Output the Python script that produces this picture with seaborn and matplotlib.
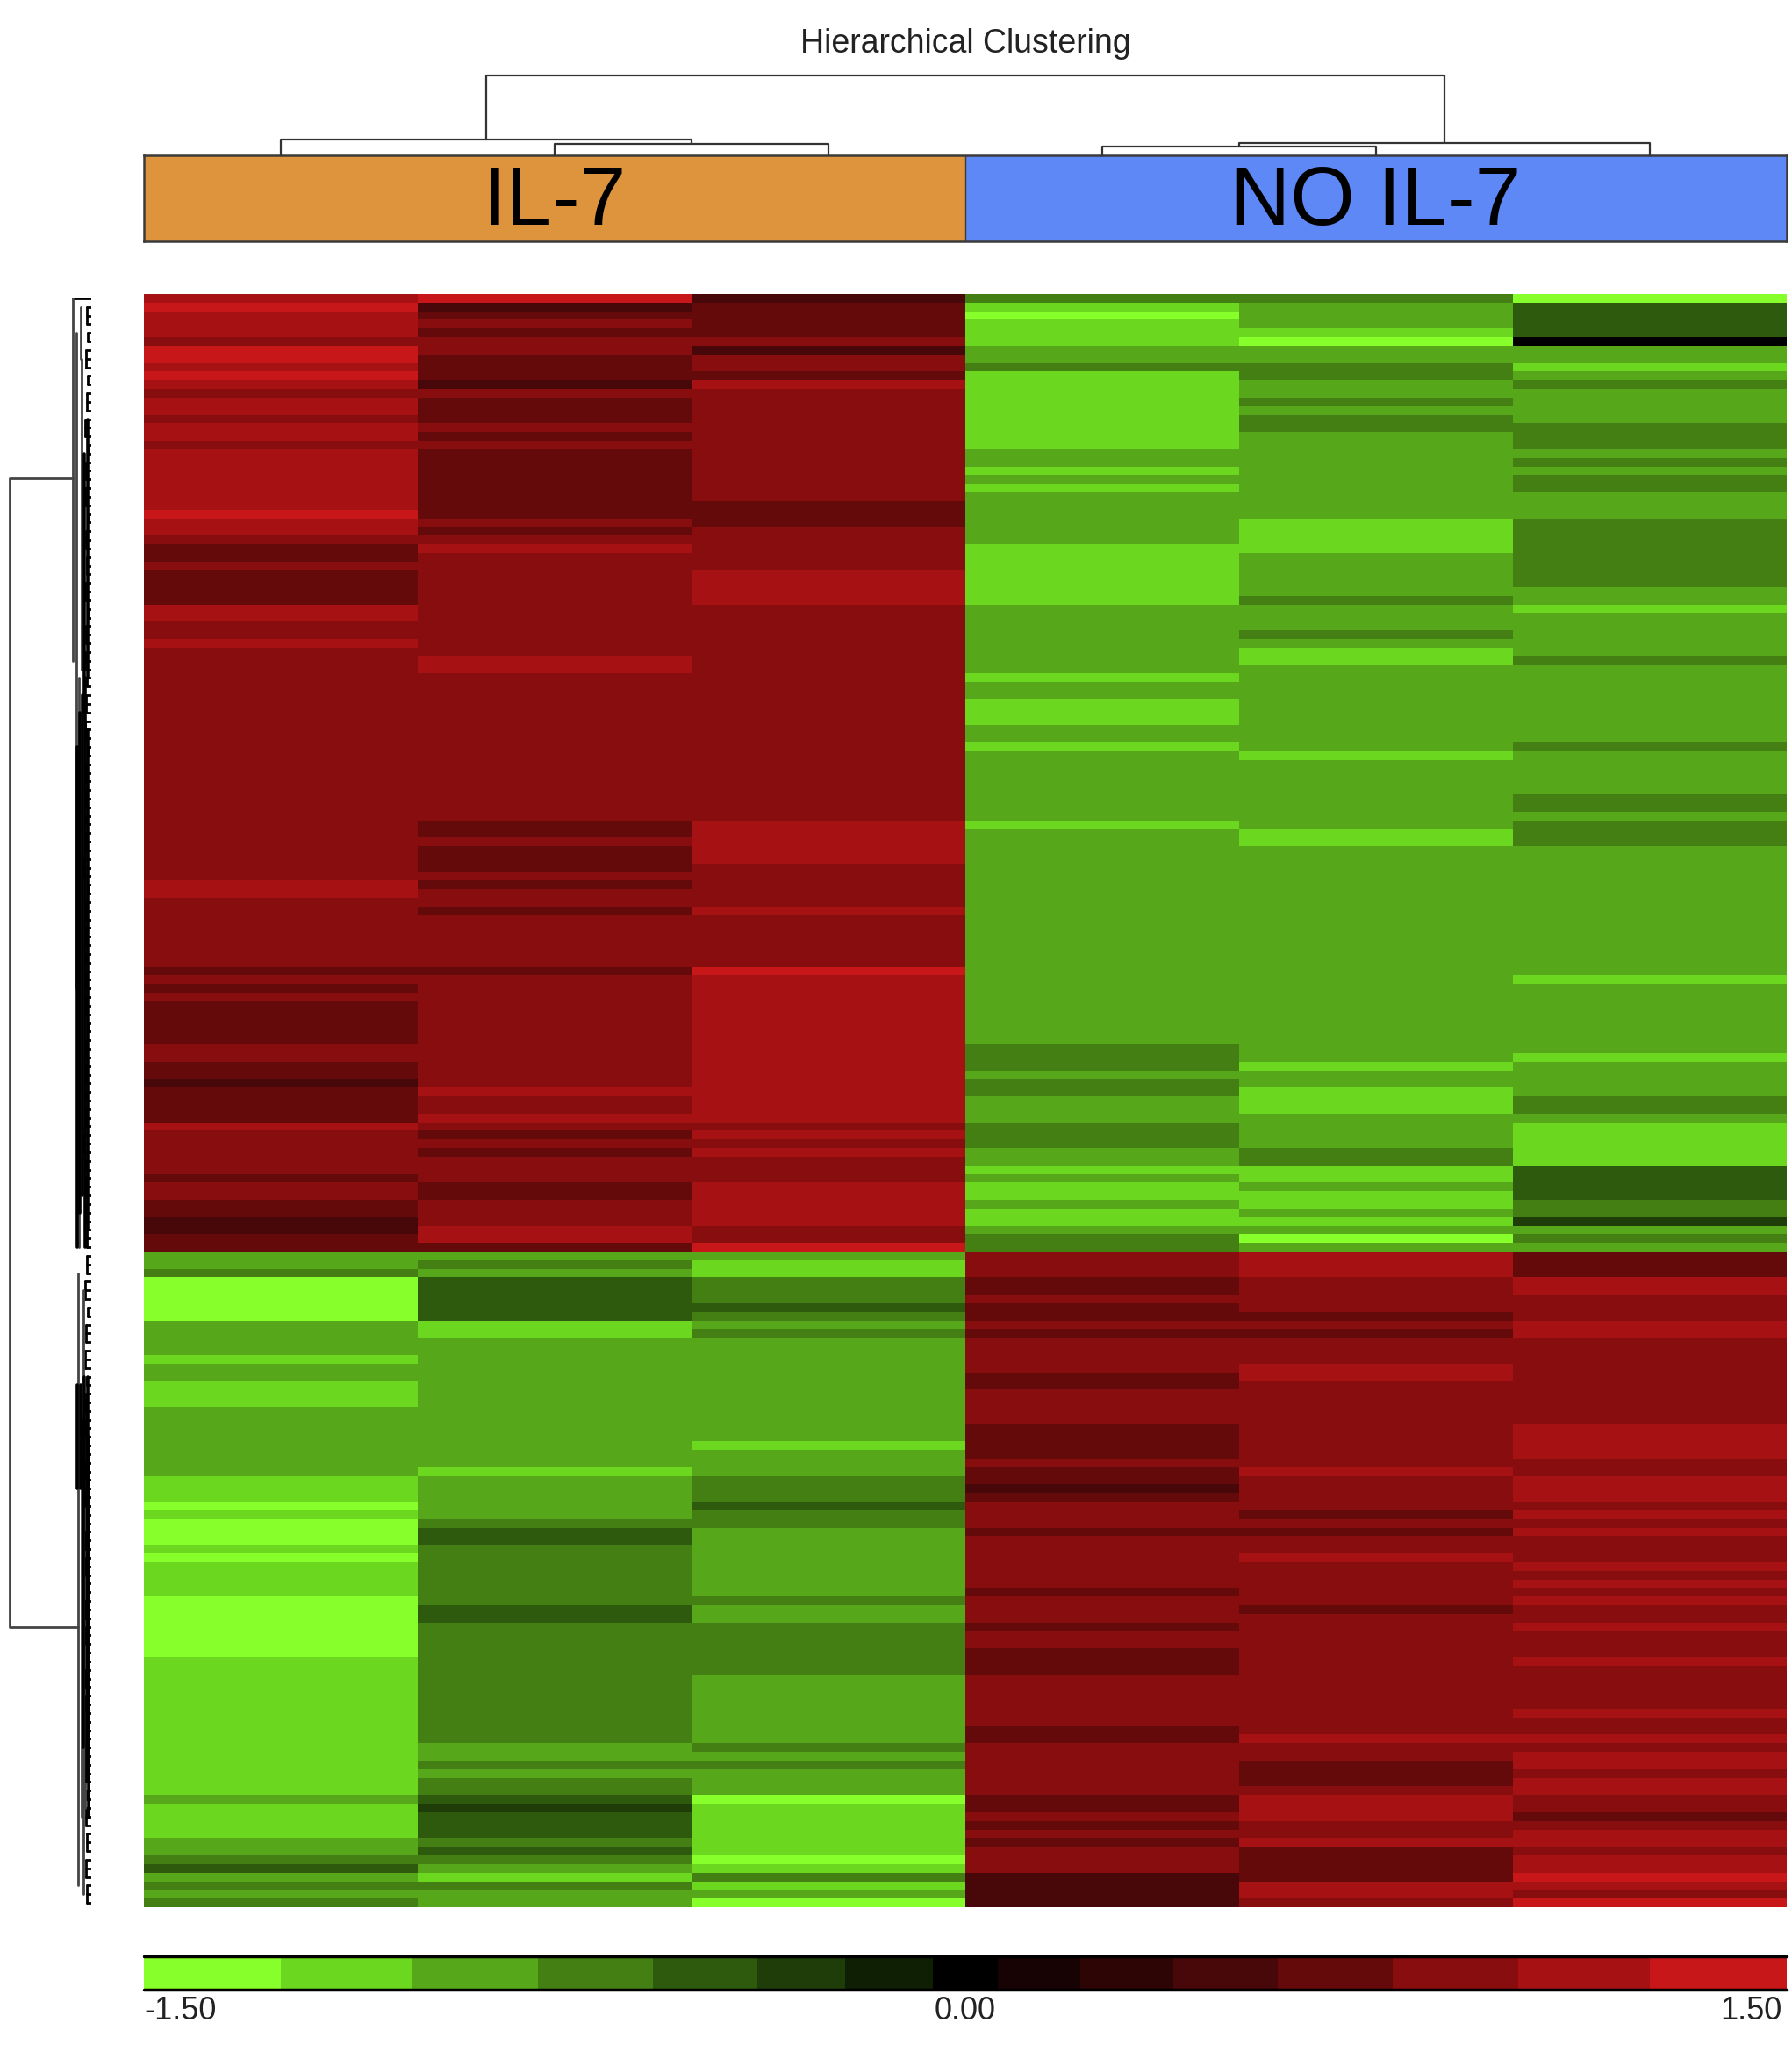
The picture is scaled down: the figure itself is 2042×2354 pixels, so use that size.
import numpy as np
import matplotlib
matplotlib.use("Agg")
import matplotlib.pyplot as plt
from matplotlib.colors import ListedColormap, BoundaryNorm
from matplotlib.transforms import ScaledTranslation
import seaborn as sns

sns.set_style("white")
plt.rcParams['font.family'] = ['Liberation Sans', 'DejaVu Sans']

# ==========================================
# DATA (runs of [value, number of rows], top row first)
# ==========================================

sample_names = ["IL-7", "IL-7", "IL-7", "NO IL-7", "NO IL-7", "NO IL-7"]
group_labels = ["IL-7", "NO IL-7"]
group_colors = ["#DD943D", "#5F88F7"]

a, b, c, d, e, f, g = 1.4, 1.1, 0.9, 0.7, 0.5, 0.3, 0.1
p, q, r, s, t, u, v = -1.4, -1.1, -0.9, -0.7, -0.5, -0.3, -0.1

il7_1 = [[b,1],[a,1],[b,3],[c,1],[a,2],[b,1],[a,1],[b,1],[c,1],[b,2],[c,1],[b,2],[c,1],[b,7],[a,1],[b,2],[c,1],
         [d,2],[c,1],[d,4],[b,2],[c,2],[b,1],[c,27],[b,2],[c,8],[d,1],[c,1],[d,1],[c,1],[d,5],[c,2],[d,2],[e,1],
         [d,4],[b,1],[c,5],[d,1],[c,2],[d,2],[e,2],[d,2],
         [r,2],[s,1],[p,5],[r,4],[q,1],[r,2],[q,3],[r,8],[q,3],[p,1],[q,1],[p,3],[q,1],[p,1],[q,4],[p,7],[q,16],
         [r,1],[q,4],[r,2],[s,1],[t,1],[r,1],[s,1],[r,1],[s,1]]
il7_2 = [[a,1],[e,1],[d,1],[c,1],[d,1],[c,2],[d,3],[e,1],[c,1],[d,3],[c,1],[d,1],[c,1],[d,8],[c,1],[d,1],[c,1],
         [b,1],[c,12],[b,2],[c,17],[d,2],[c,1],[d,3],[c,1],[d,1],[c,2],[d,1],[c,6],[d,1],[c,13],[b,1],[c,2],[b,1],
         [c,1],[d,1],[c,1],[d,1],[c,3],[d,2],[c,3],[b,2],[d,1],
         [r,1],[s,1],[r,1],[t,5],[q,2],[r,15],[q,1],[r,5],[s,1],[t,2],[s,7],[t,2],[s,14],[r,2],[s,1],[r,1],[s,2],
         [t,1],[u,1],[t,3],[s,1],[t,1],[s,1],[r,1],[q,1],[s,1],[r,2]]
il7_3 = [[e,1],[d,4],[c,1],[e,1],[c,2],[d,1],[b,1],[c,13],[d,3],[c,5],[b,4],[c,25],[b,5],[c,5],[b,1],[c,6],[a,1],
         [b,17],[c,1],[b,1],[c,1],[b,1],[c,3],[b,5],[c,2],[a,1],
         [r,1],[q,2],[s,3],[t,1],[s,1],[r,1],[s,1],[r,12],[q,1],[r,3],[s,3],[t,1],[s,2],[r,8],[s,1],[r,2],[s,6],
         [r,8],[s,1],[r,1],[s,1],[r,3],[p,1],[q,6],[p,1],[q,1],[s,1],[q,1],[r,1],[p,1]]
noil7_1 = [[s,1],[q,1],[p,1],[q,3],[r,2],[s,1],[q,9],[r,2],[q,1],[r,1],[q,1],[r,6],[q,7],[r,8],[q,1],[r,2],[q,3],
           [r,2],[q,1],[r,8],[q,1],[r,25],[s,3],[r,1],[s,2],[r,3],[s,3],[r,2],[q,1],[r,1],[q,2],[r,1],[q,2],[r,1],[s,2],
           [c,3],[d,2],[c,1],[d,2],[c,1],[d,1],[c,4],[d,2],[c,4],[d,4],[c,1],[d,2],[e,1],[d,1],[c,3],[d,1],[c,6],
           [d,1],[c,3],[d,1],[c,2],[d,3],[c,6],[d,2],[c,6],[d,2],[c,1],[d,1],[c,1],[d,1],[c,3],[e,4]]
noil7_2 = [[s,1],[r,3],[q,1],[p,1],[r,2],[s,2],[r,2],[s,1],[r,1],[s,2],[r,10],[q,4],[r,5],[s,1],[r,3],[s,1],[r,1],
           [q,2],[r,10],[q,1],[r,8],[q,2],[r,25],[q,1],[r,2],[q,3],[r,4],[s,2],[q,2],[r,1],[q,2],[r,1],[q,1],[r,1],
           [p,1],[r,1],
           [b,3],[c,4],[d,1],[c,1],[d,1],[c,3],[b,2],[c,10],[b,1],[c,4],[d,1],[c,1],[d,1],[c,2],[b,1],[c,5],[d,1],
           [c,14],[b,1],[c,2],[d,3],[c,1],[b,3],[c,2],[b,1],[d,4],[b,2],[c,1]]
noil7_3 = [[p,1],[t,4],[0.0,1],[r,2],[q,1],[r,1],[s,1],[r,4],[s,3],[r,1],[s,1],[r,1],[s,2],[r,3],[s,8],[r,2],[q,1],
           [r,5],[s,1],[r,9],[s,1],[r,5],[s,2],[r,1],[s,3],[r,15],[q,1],[r,8],[q,1],[r,4],[s,2],[r,1],[q,5],[t,4],
           [s,2],[u,1],[r,1],[s,1],[r,1],
           [d,3],[b,2],[c,3],[b,2],[c,10],[b,4],[c,2],[b,3],[c,1],[b,1],[c,1],[b,1],[c,3],[b,1],[c,1],[b,1],[c,1],
           [b,1],[c,2],[b,1],[c,3],[b,1],[c,5],[b,1],[c,2],[b,1],[c,1],[b,2],[c,1],[b,2],[c,2],[d,1],[c,1],[b,2],
           [c,1],[b,2],[a,1],[b,1],[c,1],[a,1]]

# colour steps of the scale, they are not evenly wide
scale_edges = [-1.5,-1.25,-1.01,-0.78,-0.57,-0.38,-0.22,-0.06,0.06,0.21,0.38,0.57,0.78,1.01,1.25,1.5]
scale_colors = ["#86FF2A","#6CD71F","#56A81A","#437F13","#2E5A0D","#1E3D08","#0F1F04","#000000",
                "#180304","#2E0505","#480708","#640A0A","#870D0F","#A61213","#C71718"]
scale_ticks = [-1.5, 0, 1.5]
scale_labels = ["-1.50", "0.00", "1.50"]

# sample tree: left node, right node, height
col_links = [[1,2,13],[0,6,18],[3,4,10],[5,8,14],[7,9,91]]

# gene tree: first row, last row, height
row_small = [[0,0,21],[1,3,5],[4,5,4],[6,8,6],[9,10,4],[11,13,5],[14,16,7],[17,18,4],[19,21,6],[22,24,7],[25,26,4],
             [27,29,6],[30,32,5],[33,35,7],[36,37,4],[38,40,6],[41,43,7],[44,45,5],[46,48,6],[49,51,7],[52,53,4],
             [54,56,6],[57,59,7],[60,61,5],[62,64,6],[65,67,8],[68,69,4],[70,72,6],[73,75,7],[76,77,5],[78,80,6],
             [81,83,7],[84,85,4],[86,88,6],[89,91,7],[92,93,5],[94,96,6],[97,99,8],[100,101,5],[102,104,6],
             [105,107,7],[108,110,5],[111,113,5],[114,116,7],[117,118,4],[119,121,6],[122,124,7],[125,126,5],
             [127,129,6],[130,132,8],[133,134,4],[135,137,7],[138,140,6],[141,142,5],[143,145,7],[146,148,6],
             [149,150,4],[151,153,7],[154,156,6],[157,158,5],[159,161,7],[162,164,6],[165,166,4],[167,169,6],
             [170,172,7],[173,174,5],[175,177,6],[178,180,5],[181,183,6],[184,186,5]]
row_mid = [[0,42,21],[4,80,17],[44,110,14],[1,7,12],[7,43,11],[113,184,15],[137,176,11],[164,175,7],[115,160,9],
           [140,185,9]]
row_dense = [[50,108,4],[44,110,7],[46,104,10],[48,106,13],[52,110,16],[14,44,4],[18,48,8],
             [125,140,4],[125,140,8],[126,138,12],[126,138,16],[128,172,5],[130,168,9],[132,176,3]]
row_root = [21.4,154.5,93]
row_root_children = [21,15]

# ==========================================
# FIGURE
# ==========================================

W, H = 2042, 2354
fig = plt.figure(figsize=(W/100, H/100), dpi=100, facecolor="white")

def box(x0, y0, x1, y1):
    return [x0/W, 1-y1/H, (x1-x0)/W, (y1-y0)/H]

ax_main = fig.add_axes(box(164, 335, 2036, 2173))
ax_cbar = fig.add_axes(box(164, 2229, 2036, 2267))
ax_group = fig.add_axes(box(164, 177, 2036, 275))
ax_top = fig.add_axes(box(164, 30, 2036, 177))
ax_left = fig.add_axes(box(0, 335, 104, 2173))

columns = [il7_1, il7_2, il7_3, noil7_1, noil7_2, noil7_3]
matrix = np.column_stack([np.repeat([x[0] for x in col], [x[1] for x in col]) for col in columns])

# Heatmap + colour scale

cmap = ListedColormap(scale_colors)
norm = BoundaryNorm(scale_edges, cmap.N)

sns.heatmap(
    matrix,
    cmap=cmap,
    norm=norm,
    xticklabels=False,
    yticklabels=False,
    ax=ax_main,
    cbar_ax=ax_cbar,
    cbar_kws={
        'orientation': 'horizontal',
        'spacing': 'proportional',
        'ticks': scale_ticks
    }
)

ax_cbar.minorticks_off()
ax_cbar.set_xticks(scale_ticks, scale_labels)
ax_cbar.tick_params(which='both', length=0, labelsize=26, pad=5, labelcolor="#222222")
cbar_labels = ax_cbar.get_xticklabels()
cbar_labels[0].set_ha('left')
cbar_labels[-1].set_ha('right')
cbar_labels[-1].set_transform(
    cbar_labels[-1].get_transform() + ScaledTranslation(-6/100, 0, fig.dpi_scale_trans)
)
for y in [0, 1]:
    ax_cbar.axhline(y, color='black', lw=2.5, clip_on=False)

# Group bar

sns.heatmap(
    [[0, 1]],
    cmap=ListedColormap(group_colors),
    annot=np.array([group_labels]),
    fmt="",
    annot_kws={'size': 68, 'color': 'black'},
    cbar=False,
    xticklabels=False,
    yticklabels=False,
    ax=ax_group
)
for label in ax_group.texts:
    label.set_y(0.56)
for spine in ax_group.spines.values():
    spine.set_visible(True)
    spine.set_color("#3a3a3a")
    spine.set_linewidth(1.8)
ax_group.axvline(1, color="#3a3a3a", lw=1)

# Sample tree

ax_top.set_xlim(0, len(sample_names))
ax_top.set_ylim(0, 147)
ax_top.axis('off')
pos = {i: (i + 0.5, 0) for i in range(len(sample_names))}
for k, (left, right, height) in enumerate(col_links):
    x0, h0 = pos[left]
    x1, h1 = pos[right]
    ax_top.plot([x0, x0, x1, x1], [h0, height, height, h1], color="#333333", lw=1.6, clip_on=False)
    pos[len(sample_names) + k] = ((x0 + x1) / 2, height)

ax_top.text(
    3, 127, "Hierarchical Clustering",
    ha='center', va='center', fontsize=27, color="#222222", clip_on=False
)

# Gene tree

ax_left.set_xlim(104, 0)
ax_left.set_ylim(matrix.shape[0], 0)
ax_left.axis('off')
for first, last, height in row_small:
    for row in range(first, last + 1):
        ax_left.plot([0, height], [row + 0.5, row + 0.5], color="black", lw=2)
    ax_left.plot([height, height], [first + 0.5, last + 0.5], color="black", lw=2)
for first, last, height in row_mid:
    ax_left.plot([height, height], [first + 0.5, last + 0.5], color="#444444", lw=2)
for first, last, height in row_dense:
    ax_left.plot([height, height], [first + 0.5, last + 0.5], color="black", lw=2.6)
top_row, bottom_row, root_height = row_root
ax_left.plot([row_root_children[0], root_height, root_height, row_root_children[1]],
             [top_row, top_row, bottom_row, bottom_row], color="#444444", lw=2)

fig.savefig("out.png", dpi=100)
